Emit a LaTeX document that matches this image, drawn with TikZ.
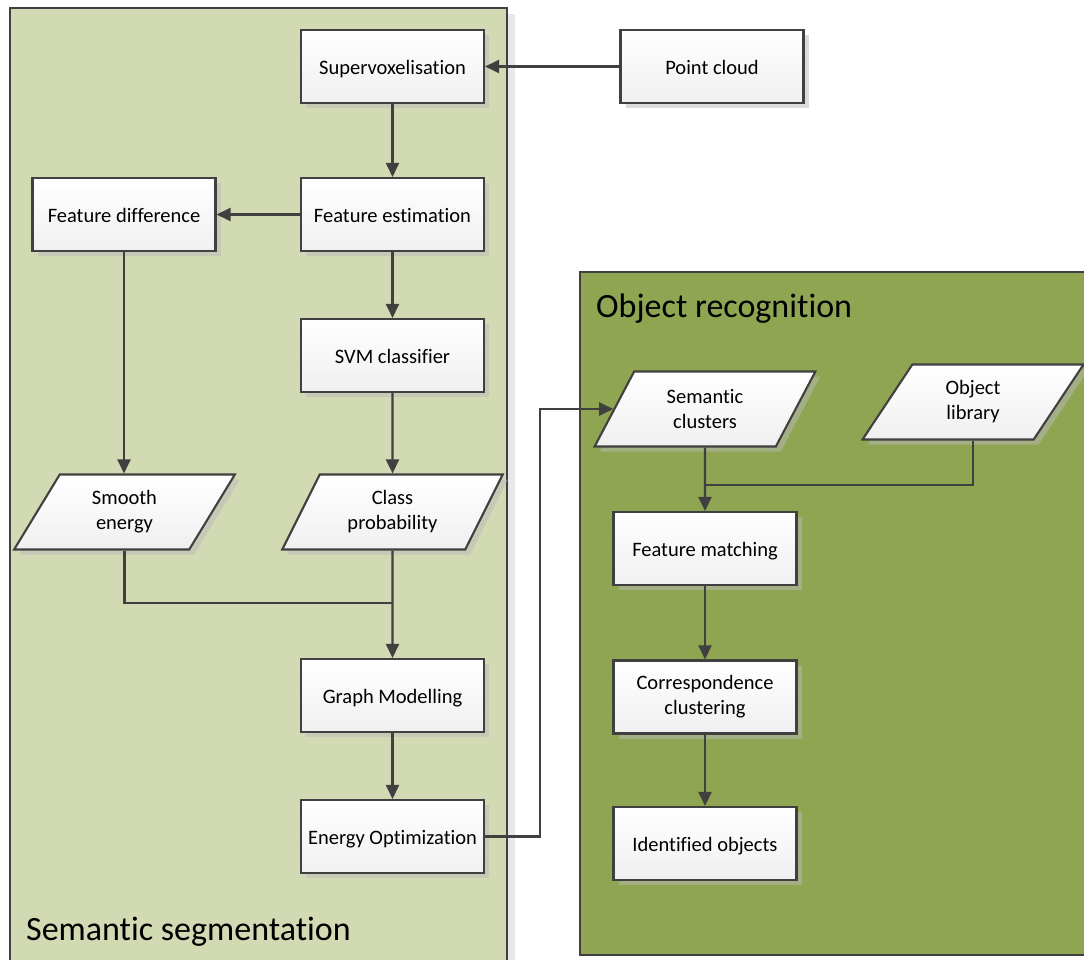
\documentclass[tikz,border=0pt]{standalone}
\usepackage{fontspec}
\setmainfont{Carlito}[Ligatures=NoCommon]
\usetikzlibrary{shapes.geometric,shadows,arrows.meta}
\definecolor{lpanel}{RGB}{210,218,180}
\definecolor{rpanel}{RGB}{143,165,82}
\definecolor{edgec}{RGB}{64,64,64}
\tikzset{
 proc/.style={draw=edgec, line width=2.1pt, top color=white, bottom color=gray!12,
   minimum width=183pt, minimum height=73pt, inner sep=2pt,
   font=\fontsize{20.5}{25}\selectfont, align=center, text depth=4pt, text height=20pt,
   drop shadow={shadow xshift=5pt, shadow yshift=-5pt, fill=gray!55, opacity=.5}},
 datab/.style={proc, trapezium, trapezium left angle=62.5, trapezium right angle=117.5,
   trapezium stretches=true, minimum width=221pt, minimum height=75pt, text height=, text depth=},
 flow/.style={draw=edgec, line width=2.4pt, -{Triangle[length=14pt,width=13pt]}},
 link/.style={draw=edgec, line width=2.4pt},
 paneltitle/.style={anchor=west, font=\fontsize{34}{38}\selectfont, inner sep=0pt},
 panel/.style={draw=edgec, line width=2pt},
}
\begin{document}
\begin{tikzpicture}[x=1pt,y=-1pt]
\useasboundingbox (0,0) rectangle (1084,960);
% panels
\fill[gray!18] (507,14) rectangle (515,970);
\draw[panel, fill=lpanel] (10,8) rectangle (507,975);
\draw[panel, fill=rpanel] (580,272) rectangle (1095,955);
\node[paneltitle] (t1) at (26,932) {Semantic segmentation};
\node[paneltitle] (t2) at (596,309) {Object recognition};
% nodes
\node[proc] (sv) at (392.5,66.5) {Supervoxelisation};
\node[proc] (pc) at (712,66.5) {Point cloud};
\node[proc] (fe) at (392.5,214.5) {Feature estimation};
\node[proc] (fd) at (124,214.5) {Feature difference};
\node[proc] (svm) at (392.5,355.5) {SVM classifier};
\node[datab] (se) at (124.5,512) {Smooth\\energy};
\node[datab] (cp) at (392.5,512) {Class\\probability};
\node[proc] (gm) at (392.5,695.5) {Graph Modelling};
\node[proc] (eo) at (392.5,836.5) {Energy Optimization};
\node[datab] (sc) at (705,409) {Semantic\\clusters};
\node[datab] (ol) at (973,402) {Object\\library};
\node[proc] (fm) at (705,548.5) {Feature matching};
\node[proc, text height=, text depth=] (cc) at (705,697) {Correspondence\\clustering};
\node[proc] (io) at (705,843.5) {Identified objects};
% junctions
\coordinate (j1) at (392.5,603);
\coordinate (j2) at (705,485);
\coordinate (bend) at (540,600);
% connectors
\draw[flow] (pc) -- (sv);
\draw[flow] (sv) -- (fe);
\draw[flow] (fe) -- (fd);
\draw[flow] (fe) -- (svm);
\draw[flow] (svm) -- (cp);
\draw[flow] (fd.south) -- (fd.south |- se.north);
\draw[link] (se.south) |- (j1);
\draw[flow] (cp) -- (gm);
\draw[flow] (gm) -- (eo);
\draw[flow] (eo.east) -- (eo.east -| bend) |- (sc.west);
\draw[link] (ol.south) |- (j2);
\draw[flow] (sc) -- (fm);
\draw[flow] (fm) -- (cc);
\draw[flow] (cc) -- (io);
\end{tikzpicture}
\end{document}
